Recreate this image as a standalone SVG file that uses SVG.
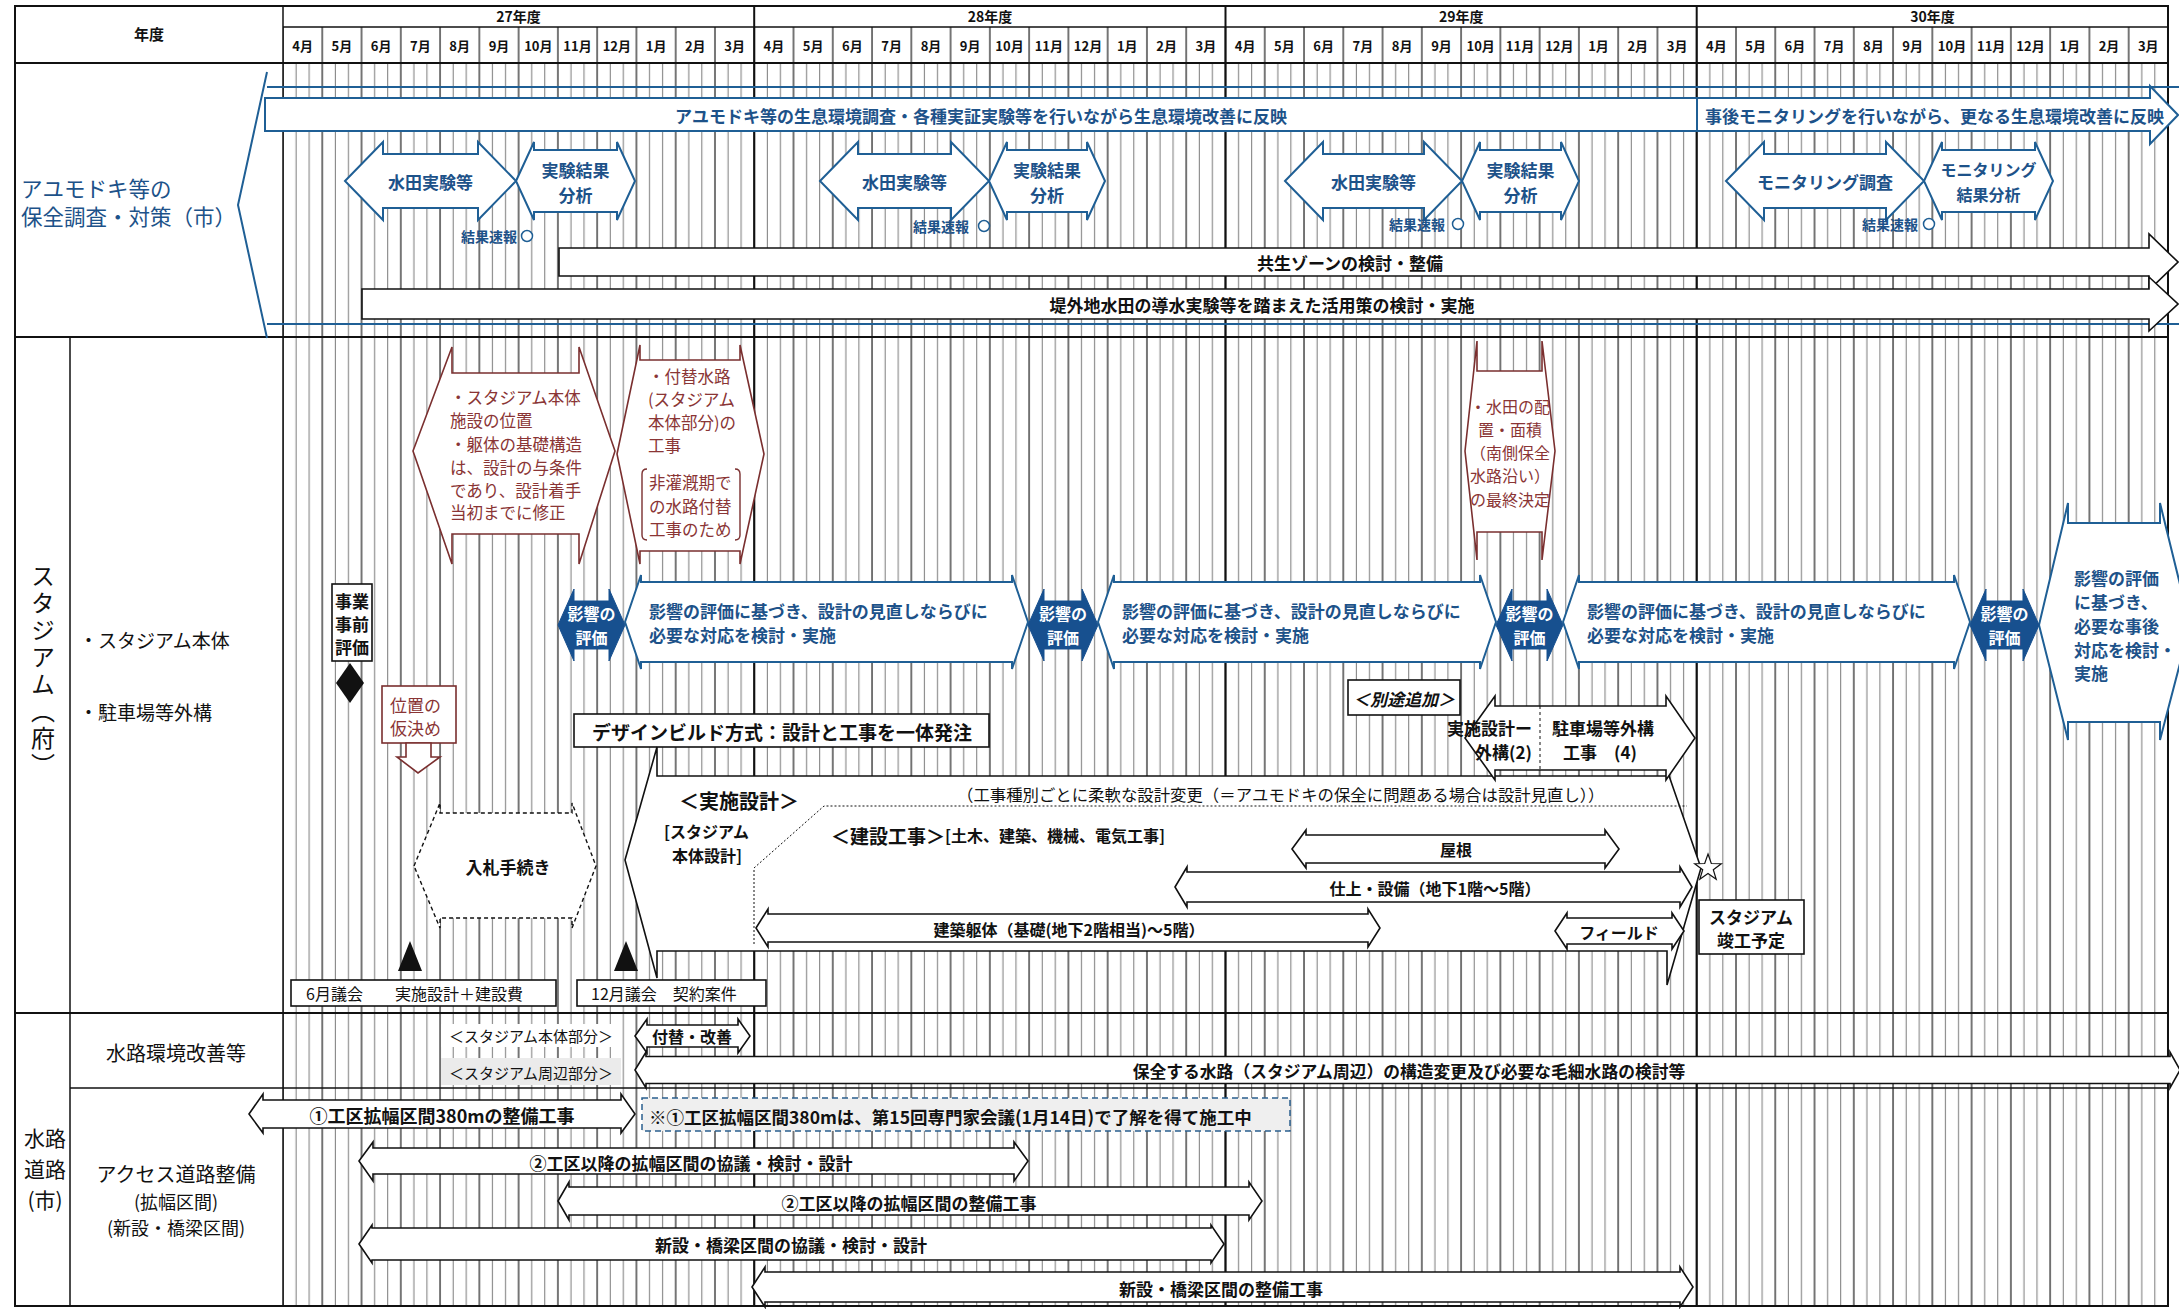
<svg xmlns="http://www.w3.org/2000/svg" width="2179" height="1309" viewBox="0 0 2179 1309">
<defs>
<style>
text{font-family:'Noto Sans CJK JP','Noto Sans CJK SC',sans-serif;dominant-baseline:central;fill:#111}
.b{font-weight:bold}
.c{text-anchor:middle}
.e{text-anchor:end}
.blu{fill:#1d5289}
.brn{fill:#8a3535}
.wht{fill:#fff}
.sb{fill:#fff;stroke:#1f5f95;stroke-width:2}
.sk{fill:#fff;stroke:#111;stroke-width:1.6}
.sr{fill:#fff;stroke:#7a2f2f;stroke-width:1.6}
.sf{fill:#17508f;stroke:#17508f;stroke-width:1}
.ln{stroke:#111;fill:none}
.bl{stroke:#1f5f95;fill:none;stroke-width:2}
</style>
<pattern id="grid" x="282" y="0" width="39.27" height="20" patternUnits="userSpaceOnUse">
<line x1="1" y1="0" x2="1" y2="20" stroke="#1a1a1a" stroke-width="1.2"/>
<line x1="14.09" y1="0" x2="14.09" y2="20" stroke="#555" stroke-width="0.8"/>
<line x1="27.18" y1="0" x2="27.18" y2="20" stroke="#555" stroke-width="0.8"/>
</pattern>
<pattern id="mgrid" x="282" y="0" width="39.27" height="20" patternUnits="userSpaceOnUse">
<line x1="1" y1="0" x2="1" y2="20" stroke="#1a1a1a" stroke-width="1.2"/>
</pattern>
</defs>
<rect x="0" y="0" width="2179" height="1309" fill="#fff"/>

<g id="grid-frame">
<rect x="283" y="63" width="1885" height="1243" fill="url(#grid)"/>
<rect x="283" y="27" width="1885" height="36" fill="url(#mgrid)"/>
<rect x="15" y="6" width="2153" height="1300" class="ln" stroke-width="2"/>
<line x1="283" y1="27" x2="2168" y2="27" class="ln" stroke-width="1.5"/>
<line x1="15" y1="63" x2="2168" y2="63" class="ln" stroke-width="2"/>
<line x1="15" y1="337" x2="2168" y2="337" class="ln" stroke-width="2"/>
<line x1="15" y1="1013" x2="2168" y2="1013" class="ln" stroke-width="2"/>
<line x1="70" y1="1088" x2="2168" y2="1088" class="ln" stroke-width="1.5"/>
<line x1="283" y1="6" x2="283" y2="1306" class="ln" stroke-width="1.5"/>
<line x1="70" y1="337" x2="70" y2="1306" class="ln" stroke-width="1.5"/>
<line x1="754.2" y1="6" x2="754.2" y2="1306" class="ln" stroke-width="2"/>
<line x1="1225.5" y1="6" x2="1225.5" y2="1306" class="ln" stroke-width="2"/>
<line x1="1696.7" y1="6" x2="1696.7" y2="1306" class="ln" stroke-width="2"/>
</g>

<g id="header">
<text x="149" y="33" class="b c" font-size="15">年度</text>
<text x="518.6" y="16" class="b c" font-size="14">27年度</text>
<text x="989.9" y="16" class="b c" font-size="14">28年度</text>
<text x="1461.2" y="16" class="b c" font-size="14">29年度</text>
<text x="1932.4" y="16" class="b c" font-size="14">30年度</text>
<g font-size="13" class="b">
<text x="302.6" y="45" class="c">4月</text><text x="341.9" y="45" class="c">5月</text><text x="381.2" y="45" class="c">6月</text><text x="420.4" y="45" class="c">7月</text><text x="459.7" y="45" class="c">8月</text><text x="499.0" y="45" class="c">9月</text><text x="538.3" y="45" class="c">10月</text><text x="577.5" y="45" class="c">11月</text><text x="616.8" y="45" class="c">12月</text><text x="656.1" y="45" class="c">1月</text><text x="695.3" y="45" class="c">2月</text><text x="734.6" y="45" class="c">3月</text>
<text x="773.9" y="45" class="c">4月</text><text x="813.2" y="45" class="c">5月</text><text x="852.4" y="45" class="c">6月</text><text x="891.7" y="45" class="c">7月</text><text x="931.0" y="45" class="c">8月</text><text x="970.2" y="45" class="c">9月</text><text x="1009.5" y="45" class="c">10月</text><text x="1048.8" y="45" class="c">11月</text><text x="1088.0" y="45" class="c">12月</text><text x="1127.3" y="45" class="c">1月</text><text x="1166.6" y="45" class="c">2月</text><text x="1205.9" y="45" class="c">3月</text>
<text x="1245.1" y="45" class="c">4月</text><text x="1284.4" y="45" class="c">5月</text><text x="1323.7" y="45" class="c">6月</text><text x="1362.9" y="45" class="c">7月</text><text x="1402.2" y="45" class="c">8月</text><text x="1441.5" y="45" class="c">9月</text><text x="1480.7" y="45" class="c">10月</text><text x="1520.0" y="45" class="c">11月</text><text x="1559.3" y="45" class="c">12月</text><text x="1598.5" y="45" class="c">1月</text><text x="1637.8" y="45" class="c">2月</text><text x="1677.1" y="45" class="c">3月</text>
<text x="1716.4" y="45" class="c">4月</text><text x="1755.6" y="45" class="c">5月</text><text x="1794.9" y="45" class="c">6月</text><text x="1834.2" y="45" class="c">7月</text><text x="1873.4" y="45" class="c">8月</text><text x="1912.7" y="45" class="c">9月</text><text x="1952.0" y="45" class="c">10月</text><text x="1991.2" y="45" class="c">11月</text><text x="2030.5" y="45" class="c">12月</text><text x="2069.8" y="45" class="c">1月</text><text x="2109.0" y="45" class="c">2月</text><text x="2148.3" y="45" class="c">3月</text>
</g>
</g>

<g id="labels">
<text x="21" y="187" class="blu" font-size="21.5">アユモドキ等の</text>
<text x="21" y="215" class="blu" font-size="21.5">保全調査・対策（市）</text>
<text x="43" y="672" font-size="24" class="c" style="writing-mode:vertical-rl" letter-spacing="3">スタジアム（府）</text>
<text x="79" y="639" font-size="19">・スタジアム本体</text>
<text x="79" y="711" font-size="19">・駐車場等外構</text>
<text x="176" y="1052" class="c" font-size="20">水路環境改善等</text>
<text x="45" y="1137" class="c" font-size="21">水路</text>
<text x="45" y="1168" class="c" font-size="21">道路</text>
<text x="45" y="1199" class="c" font-size="21">(市)</text>
<text x="176" y="1173" class="c" font-size="20">アクセス道路整備</text>
<text x="176" y="1201" class="c" font-size="18">(拡幅区間)</text>
<text x="176" y="1227" class="c" font-size="18">(新設・橋梁区間)</text>
</g>

<g id="ayu-main">
<path d="M267,72 L238,205 L267,338" class="bl"/>
<path d="M267,87 H2179 M267,324 H2179" class="bl"/>
<polygon points="265,98 2150,98 2150,86 2178,115 2150,144 2150,131 265,131" class="sb"/>
<line x1="1697" y1="98" x2="1697" y2="131" class="bl" stroke-width="1.5"/>
<text x="981" y="115" class="b c blu" font-size="17">アユモドキ等の生息環境調査・各種実証実験等を行いながら生息環境改善に反映</text>
<text x="1705" y="115" class="b blu" font-size="17">事後モニタリングを行いながら、更なる生息環境改善に反映</text>
</g>

<g id="ayu-set1">
<polygon points="345,181 383,142 383,154 478,154 478,142 516,181 478,220 478,208 383,208 383,220" class="sb"/>
<polygon points="516,181 534,142 534,150 617,150 617,142 635,181 617,220 617,212 534,212 534,220" class="sb"/>
<text x="430.5" y="181" class="b c blu" font-size="17">水田実験等</text>
<text x="575.5" y="169" class="b c blu" font-size="17">実験結果</text>
<text x="575.5" y="194" class="b c blu" font-size="17">分析</text>
<text x="517" y="236" class="b e blu" font-size="14">結果速報</text>
<circle cx="527" cy="236" r="5.5" fill="#fff" stroke="#1f5f95" stroke-width="1.5"/>
</g>
<g id="ayu-set2">
<polygon points="820,181 858,142 858,154 951,154 951,142 989,181 951,220 951,208 858,208 858,220" class="sb"/>
<polygon points="989,181 1007,142 1007,150 1087,150 1087,142 1105,181 1087,220 1087,212 1007,212 1007,220" class="sb"/>
<text x="904.5" y="181" class="b c blu" font-size="17">水田実験等</text>
<text x="1047" y="169" class="b c blu" font-size="17">実験結果</text>
<text x="1047" y="194" class="b c blu" font-size="17">分析</text>
<text x="969" y="226" class="b e blu" font-size="14">結果速報</text>
<circle cx="984" cy="226" r="5.5" fill="#fff" stroke="#1f5f95" stroke-width="1.5"/>
</g>
<g id="ayu-set3">
<polygon points="1285,181 1323,142 1323,154 1424,154 1424,142 1462,181 1424,220 1424,208 1323,208 1323,220" class="sb"/>
<polygon points="1462,181 1480,142 1480,150 1561,150 1561,142 1579,181 1561,220 1561,212 1480,212 1480,220" class="sb"/>
<text x="1373.5" y="181" class="b c blu" font-size="17">水田実験等</text>
<text x="1520.5" y="169" class="b c blu" font-size="17">実験結果</text>
<text x="1520.5" y="194" class="b c blu" font-size="17">分析</text>
<text x="1445" y="224" class="b e blu" font-size="14">結果速報</text>
<circle cx="1458" cy="224" r="5.5" fill="#fff" stroke="#1f5f95" stroke-width="1.5"/>
</g>
<g id="ayu-set4">
<polygon points="1726,181 1764,142 1764,154 1886,154 1886,142 1924,181 1886,220 1886,208 1764,208 1764,220" class="sb"/>
<polygon points="1924,181 1942,142 1942,150 2035,150 2035,142 2053,181 2035,220 2035,212 1942,212 1942,220" class="sb"/>
<text x="1825" y="181" class="b c blu" font-size="17">モニタリング調査</text>
<text x="1988.5" y="169" class="b c blu" font-size="16">モニタリング</text>
<text x="1988.5" y="194" class="b c blu" font-size="16">結果分析</text>
<text x="1918" y="224" class="b e blu" font-size="14">結果速報</text>
<circle cx="1929" cy="224" r="5.5" fill="#fff" stroke="#1f5f95" stroke-width="1.5"/>
</g>
<g id="ayu-black">
<polygon points="559,248 2149,248 2149,234 2178,262 2149,290 2149,276 559,276" class="sk" stroke-width="2"/>
<text x="1350" y="262" class="b c" font-size="17">共生ゾーンの検討・整備</text>
<polygon points="362,289 2149,289 2149,277 2178,304 2149,331 2149,319 362,319" class="sk" stroke-width="2"/>
<text x="1262" y="304" class="b c" font-size="17">堤外地水田の導水実験等を踏まえた活用策の検討・実施</text>
</g>

<g id="stadium-brown">
<polygon points="413,451 452,347 452,373 579,373 579,347 615,451 579,564 579,534 452,534 452,564" class="sr"/>
<g font-size="16.5">
<text x="450" y="397" class="brn">・スタジアム本体</text>
<text x="450" y="420" class="brn">施設の位置</text>
<text x="450" y="444" class="brn">・躯体の基礎構造</text>
<text x="450" y="467" class="brn">は、設計の与条件</text>
<text x="450" y="490" class="brn">であり、設計着手</text>
<text x="450" y="512" class="brn">当初までに修正</text>
</g>
<polygon points="617,454 640,345 640,360 740,360 740,345 764,454 740,564 740,551 640,551 640,564" class="sr"/>
<g font-size="16.5">
<text x="648" y="376" class="brn">・付替水路</text>
<text x="648" y="399" class="brn">(スタジアム</text>
<text x="648" y="422" class="brn">本体部分)の</text>
<text x="648" y="445" class="brn">工事</text>
<text x="649" y="482" class="brn">非灌漑期で</text>
<text x="649" y="506" class="brn">の水路付替</text>
<text x="649" y="529" class="brn">工事のため</text>
</g>
<path d="M647,469 Q642,469 642,474 V535 Q642,540 647,540 M735,469 Q740,469 740,474 V535 Q740,540 735,540" fill="none" stroke="#7a2f2f" stroke-width="1.4"/>
<polygon points="1465,451 1477,341 1477,371 1542,371 1542,341 1555,451 1542,560 1542,532 1477,532 1477,560" class="sr"/>
<g font-size="16">
<text x="1510" y="406" class="c brn">・水田の配</text>
<text x="1510" y="429" class="c brn">置・面積</text>
<text x="1510" y="452" class="c brn">（南側保全</text>
<text x="1510" y="475" class="c brn">水路沿い）</text>
<text x="1510" y="499" class="c brn">の最終決定</text>
</g>
</g>

<g id="stadium-early">
<rect x="332" y="584" width="40" height="77" class="sk"/>
<text x="352" y="600" class="b c" font-size="17">事業</text>
<text x="352" y="623" class="b c" font-size="17">事前</text>
<text x="352" y="646" class="b c" font-size="17">評価</text>
<polygon points="350,663 364,683 350,703 336,683" fill="#111"/>
<rect x="382" y="686" width="74" height="57" class="sr"/>
<text x="390" y="704" class="brn" font-size="17">位置の</text>
<text x="390" y="727" class="brn" font-size="17">仮決め</text>
<polygon points="406,743 431,743 431,757 440,757 418,773 397,757 406,757" class="sr"/>
<polygon points="414,866 440,803 440,813 572,813 572,803 596,866 572,928 572,918 440,918 440,928" fill="#fff" stroke="#111" stroke-width="1.4" stroke-dasharray="4 3"/>
<text x="508" y="866" class="b c" font-size="17">入札手続き</text>
<polygon points="410,941 422,971 398,971" fill="#111"/>
<polygon points="626,941 638,971 614,971" fill="#111"/>
<rect x="291" y="980" width="265" height="26" class="sk"/>
<text x="306" y="993" font-size="16">6月議会　　実施設計＋建設費</text>
<rect x="577" y="980" width="189" height="26" class="sk"/>
<text x="591" y="993" font-size="16">12月議会　契約案件</text>
</g>

<g id="stadium-blue">
<polygon points="625,622 641,575 641,582 1012,582 1012,575 1028,622 1012,669 1012,662 641,662 641,669" class="sb"/>
<polygon points="1098,622 1114,575 1114,582 1480,582 1480,575 1496,622 1480,669 1480,662 1114,662 1114,669" class="sb"/>
<polygon points="1563,622 1579,575 1579,582 1954,582 1954,575 1970,622 1954,669 1954,662 1579,662 1579,669" class="sb"/>
<polygon points="2039,625 2068,503 2068,523 2160,523 2160,503 2190,625 2160,740 2160,722 2068,722 2068,740" class="sb"/>
<g font-size="17">
<text x="649" y="610" class="b blu">影響の評価に基づき、設計の見直しならびに</text>
<text x="649" y="634" class="b blu">必要な対応を検討・実施</text>
<text x="1122" y="610" class="b blu">影響の評価に基づき、設計の見直しならびに</text>
<text x="1122" y="634" class="b blu">必要な対応を検討・実施</text>
<text x="1587" y="610" class="b blu">影響の評価に基づき、設計の見直しならびに</text>
<text x="1587" y="634" class="b blu">必要な対応を検討・実施</text>
<text x="2074" y="577" class="b blu">影響の評価</text>
<text x="2074" y="601" class="b blu">に基づき、</text>
<text x="2074" y="625" class="b blu">必要な事後</text>
<text x="2074" y="649" class="b blu">対応を検討・</text>
<text x="2074" y="672" class="b blu">実施</text>
</g>
<polygon points="558,625 574,589 574,601 609,601 609,589 625,625 609,661 609,649 574,649 574,661" class="sf"/>
<polygon points="1028,625 1044,589 1044,601 1082,601 1082,589 1098,625 1082,661 1082,649 1044,649 1044,661" class="sf"/>
<polygon points="1496,625 1512,589 1512,601 1547,601 1547,589 1563,625 1547,661 1547,649 1512,649 1512,661" class="sf"/>
<polygon points="1970,625 1986,589 1986,601 2023,601 2023,589 2039,625 2023,661 2023,649 1986,649 1986,661" class="sf"/>
<text x="591.5" y="613" class="b c wht" font-size="16">影響の</text>
<text x="591.5" y="637" class="b c wht" font-size="16">評価</text>
<text x="1063" y="613" class="b c wht" font-size="16">影響の</text>
<text x="1063" y="637" class="b c wht" font-size="16">評価</text>
<text x="1529.5" y="613" class="b c wht" font-size="16">影響の</text>
<text x="1529.5" y="637" class="b c wht" font-size="16">評価</text>
<text x="2004.5" y="613" class="b c wht" font-size="16">影響の</text>
<text x="2004.5" y="637" class="b c wht" font-size="16">評価</text>
</g>

<g id="stadium-design-build">
<rect x="574" y="714" width="415" height="33" class="sk"/>
<text x="592" y="731" class="b" font-size="19">デザインビルド方式：設計と工事を一体発注</text>
<polygon points="625,860 657,747 657,776 1667,776 1667,770 1701,868 1667,985 1667,951 657,951 657,978" class="sk"/>
<polyline points="754,944 754,868 824,806 1687,806" fill="none" stroke="#111" stroke-width="1" stroke-dasharray="2 2"/>
<text x="739" y="800" class="b c" font-size="20">＜実施設計＞</text>
<text x="664" y="831" class="b" font-size="16">[スタジアム</text>
<text x="672" y="855" class="b" font-size="16">本体設計]</text>
<text x="957" y="794" font-size="16.4">（工事種別ごとに柔軟な設計変更（＝アユモドキの保全に問題ある場合は設計見直し））</text>
<text x="831" y="835" class="b" font-size="19">＜建設工事＞<tspan font-size="16">[土木、建築、機械、電気工事]</tspan></text>
<polygon points="1292,849 1306,830 1306,835 1605,835 1605,830 1619,849 1605,868 1605,863 1306,863 1306,868" class="sk"/>
<text x="1456" y="849" class="b c" font-size="16">屋根</text>
<polygon points="1175,887 1187,867 1187,872 1680,872 1680,867 1692,887 1680,907 1680,902 1187,902 1187,907" class="sk"/>
<text x="1435" y="888" class="b c" font-size="16">仕上・設備（地下1階～5階）</text>
<polygon points="756,928 768,909 768,914 1368,914 1368,909 1380,928 1368,947 1368,942 768,942 768,947" class="sk"/>
<text x="1069" y="929" class="b c" font-size="16">建築躯体（基礎(地下2階相当)～5階）</text>
<polygon points="1555,931 1567,913 1567,918 1672,918 1672,913 1684,931 1672,949 1672,944 1567,944 1567,949" class="sk"/>
<text x="1619" y="932" class="b c" font-size="16">フィールド</text>
<polygon points="1708,854 1711.3,863.5 1721.3,863.7 1713.3,869.7 1716.2,879.3 1708,873.6 1699.8,879.3 1702.7,869.7 1694.7,863.7 1704.7,863.5" fill="#fff" stroke="#111" stroke-width="1.2"/>
<rect x="1699" y="900" width="105" height="54" class="sk"/>
<text x="1751" y="916" class="b c" font-size="17">スタジアム</text>
<text x="1751" y="939" class="b c" font-size="17">竣工予定</text>
</g>

<g id="stadium-parking">
<rect x="1348" y="680" width="112" height="35" class="sk" stroke-width="1.2"/>
<text x="1404" y="698" class="b c" font-size="17" font-style="italic">＜別途追加＞</text>
<polygon points="1465,738 1495,696 1495,706 1666,706 1666,696 1695,738 1666,780 1666,770 1495,770 1495,780" class="sk"/>
<line x1="1540" y1="706" x2="1540" y2="770" stroke="#111" stroke-width="1" stroke-dasharray="3 3"/>
<text x="1532" y="727" class="b e" font-size="17">実施設計ー</text>
<text x="1532" y="751" class="b e" font-size="17">外構(2)</text>
<text x="1552" y="727" class="b" font-size="17">駐車場等外構</text>
<text x="1563" y="751" class="b" font-size="17">工事　(4)</text>
</g>

<g id="waterway">
<rect x="441" y="1024" width="180" height="23" fill="#fff"/>
<text x="531" y="1035" class="c" font-size="15">＜スタジアム本体部分＞</text>
<rect x="441" y="1058" width="180" height="27" fill="#ebebeb"/>
<text x="531" y="1072" class="c" font-size="15">＜スタジアム周辺部分＞</text>
<polygon points="635,1036 647,1019 647,1025 738,1025 738,1019 750,1036 738,1053 738,1047 647,1047 647,1053" class="sk"/>
<text x="692" y="1036" class="b c" font-size="16">付替・改善</text>
<polygon points="635,1070 646,1052 646,1056.5 2170,1056.5 2170,1052 2180,1070 2170,1088 2170,1083.5 646,1083.5 646,1088" class="sk"/>
<text x="1409" y="1071" class="b c" font-size="16.8">保全する水路（スタジアム周辺）の構造変更及び必要な毛細水路の検討等</text>
</g>

<g id="access-road">
<polygon points="249,1114 263,1094 263,1100 621,1100 621,1094 635,1114 621,1133 621,1128 263,1128 263,1133" class="sk"/>
<text x="442" y="1115" class="b c" font-size="18">①工区拡幅区間380mの整備工事</text>
<rect x="642" y="1098" width="648" height="33" fill="#efefef" stroke="#2a5f8f" stroke-width="1.5" stroke-dasharray="6 4"/>
<text x="649" y="1116" class="b" font-size="17.5">※①工区拡幅区間380mは、第15回専門家会議(1月14日)で了解を得て施工中</text>
<polygon points="359,1161 373,1142 373,1148 1014,1148 1014,1142 1028,1161 1014,1181 1014,1174 373,1174 373,1181" class="sk"/>
<text x="691" y="1162" class="b c" font-size="17">②工区以降の拡幅区間の協議・検討・設計</text>
<polygon points="558,1201 569,1182 569,1187 1249,1187 1249,1182 1262,1201 1249,1220 1249,1215 569,1215 569,1220" class="sk"/>
<text x="909" y="1202" class="b c" font-size="17">②工区以降の拡幅区間の整備工事</text>
<polygon points="359,1244 372,1225 372,1228 1211,1228 1211,1225 1224,1244 1211,1263 1211,1260 372,1260 372,1263" class="sk"/>
<text x="791" y="1244" class="b c" font-size="17">新設・橋梁区間の協議・検討・設計</text>
<polygon points="752,1287 765,1267 765,1272 1680,1272 1680,1267 1693,1287 1680,1307 1680,1302 765,1302 765,1307" class="sk"/>
<text x="1221" y="1288" class="b c" font-size="17">新設・橋梁区間の整備工事</text>
</g>
</svg>
